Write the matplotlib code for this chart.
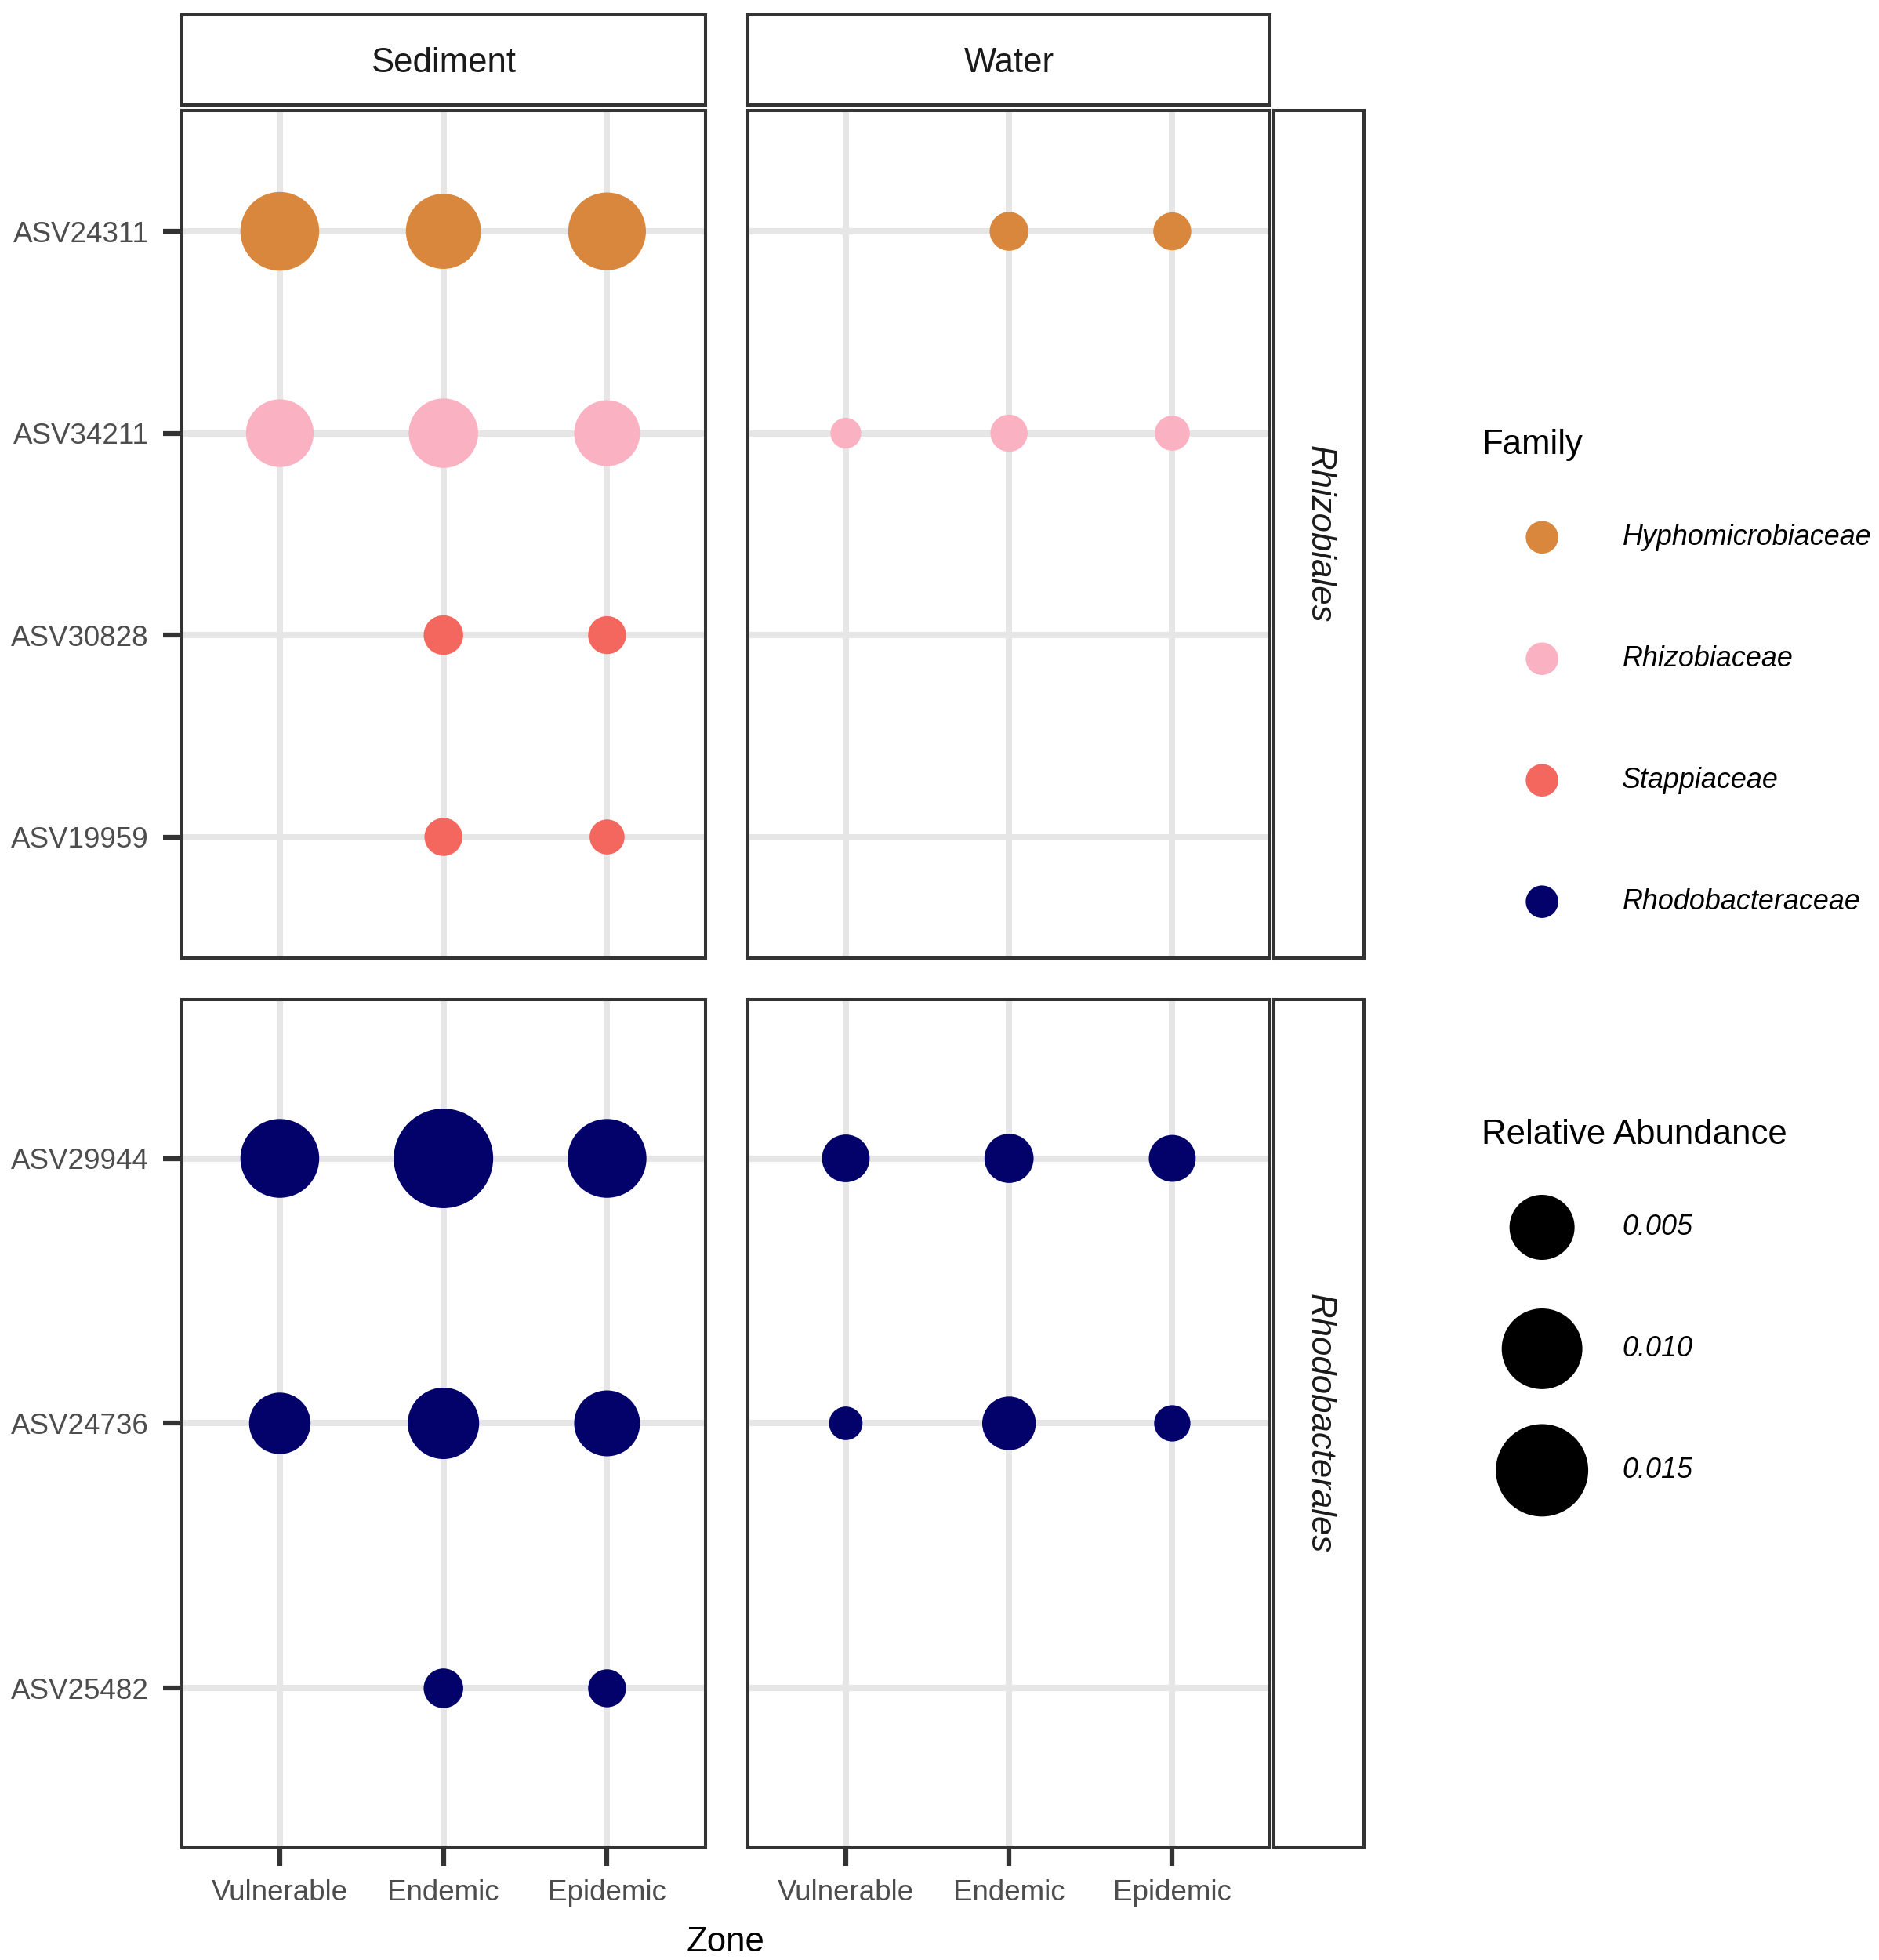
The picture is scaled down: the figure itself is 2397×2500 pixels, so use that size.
import numpy as np
import matplotlib
matplotlib.use("Agg")
import matplotlib.pyplot as plt

plt.rcParams['font.family'] = ['Liberation Sans', 'DejaVu Sans']

# ---------------- data ----------------
zones = ["Vulnerable", "Endemic", "Epidemic"]
habitats = ["Sediment", "Water"]
orders = ["Rhizobiales", "Rhodobacterales"]

families = ["Hyphomicrobiaceae", "Rhizobiaceae", "Stappiaceae", "Rhodobacteraceae"]
family_colors = ["#D8873C", "#FAB2C2", "#F4675F", "#02026A"]

# ASVs per order (top to bottom) and their family
rhizo_asvs = ["ASV24311", "ASV34211", "ASV30828", "ASV19959"]
rhizo_family = ["Hyphomicrobiaceae", "Rhizobiaceae", "Stappiaceae", "Stappiaceae"]
rhodo_asvs = ["ASV29944", "ASV24736", "ASV25482"]
rhodo_family = ["Rhodobacteraceae", "Rhodobacteraceae", "Rhodobacteraceae"]

# relative abundance [asv][zone]; nan = absent
sed_rhizo = [[0.0093, 0.0080, 0.0089],
             [0.0057, 0.0062, 0.0052],
             [np.nan, 0.0008, 0.0007],
             [np.nan, 0.0007, 0.00057]]
wat_rhizo = [[np.nan, 0.00075, 0.0007],
             [0.0005, 0.00066, 0.00057],
             [np.nan, np.nan, np.nan],
             [np.nan, np.nan, np.nan]]
sed_rhodo = [[0.0093, 0.0185, 0.0093],
             [0.0041, 0.0068, 0.0052],
             [np.nan, 0.0008, 0.0007]]
wat_rhodo = [[0.0016, 0.0018, 0.0015],
             [0.00053, 0.0025, 0.00062],
             [np.nan, np.nan, np.nan]]

size_breaks = [0.005, 0.010, 0.015]

# ---------------- size scale ----------------
all_vals = np.concatenate([np.ravel(a) for a in (sed_rhizo, wat_rhizo, sed_rhodo, wat_rhodo)])
vmin, vmax = np.nanmin(all_vals), np.nanmax(all_vals)
DPI = 100
DISP = 2397 / 1500.0  # displayed-to-output px
d_lo, d_hi = 24.5 * DISP * 72 / DPI, 79.4 * DISP * 72 / DPI  # diameters in points


def size_of(v):
    v = np.asarray(v, dtype=float)
    s = np.sqrt(np.clip((v - vmin) / (vmax - vmin), 0, 1))
    d = d_lo + (d_hi - d_lo) * s
    return d ** 2


# ---------------- figure ----------------
W, H = 2397, 2500
fig = plt.figure(figsize=(W / DPI, H / DPI), dpi=DPI)
DW, DH = 1500.0, 1565.0


def rect(x0, y0, x1, y1):
    return [x0 / DW, 1 - y1 / DH, (x1 - x0) / DW, (y1 - y0) / DH]


col_x = [(145, 563), (597, 1014)]
row_y = [(88, 765), (798, 1475)]
strip_top = (12, 84)
strip_right = (1017, 1089)

border_col = "#333333"
grid_col = "#E6E6E6"
bw = 2.9

data = {(0, 0): (sed_rhizo, rhizo_asvs, rhizo_family),
        (0, 1): (wat_rhizo, rhizo_asvs, rhizo_family),
        (1, 0): (sed_rhodo, rhodo_asvs, rhodo_family),
        (1, 1): (wat_rhodo, rhodo_asvs, rhodo_family)}

for r in range(2):
    for c in range(2):
        x0, x1 = col_x[c]
        y0, y1 = row_y[r]
        ax = fig.add_axes(rect(x0, y0, x1, y1))
        vals, asvs, fams = data[(r, c)]
        n = len(asvs)
        ypos = np.arange(n)[::-1]
        for i in range(n):
            ax.axhline(ypos[i], color=grid_col, lw=5.8, zorder=0)
        for j in range(3):
            ax.axvline(j, color=grid_col, lw=5.8, zorder=0)
        for i in range(n):
            col = family_colors[families.index(fams[i])]
            for j in range(3):
                v = vals[i][j]
                if np.isnan(v):
                    continue
                ax.scatter([j], [ypos[i]], s=size_of(v), color=col,
                           edgecolors='none', zorder=3)
        ax.set_xlim(-0.6, 2.6)
        ax.set_ylim(-0.6, n - 1 + 0.6)
        for sp in ax.spines.values():
            sp.set_color(border_col)
            sp.set_linewidth(bw)
        ax.set_xticks(range(3))
        ax.set_yticks(ypos)
        ax.tick_params(axis='both', length=17, width=4.5, color=border_col,
                       labelsize=26.5, labelcolor="#4D4D4D")
        ax.tick_params(axis='y', pad=13)
        ax.tick_params(axis='x', pad=12)
        if r == 1:
            ax.set_xticklabels(zones)
        else:
            ax.tick_params(axis='x', length=0, labelbottom=False)
        if c == 0:
            ax.set_yticklabels(asvs)
        else:
            ax.tick_params(axis='y', length=0, labelleft=False)

# top strips
for c in range(2):
    x0, x1 = col_x[c]
    sa = fig.add_axes(rect(x0, strip_top[0], x1, strip_top[1]))
    sa.set_xticks([]); sa.set_yticks([])
    for sp in sa.spines.values():
        sp.set_color(border_col); sp.set_linewidth(bw)
    sa.text(0.5, 0.47, habitats[c], ha='center', va='center', fontsize=31.5,
            color="#1A1A1A", transform=sa.transAxes)

# right strips
for r in range(2):
    y0, y1 = row_y[r]
    sa = fig.add_axes(rect(strip_right[0], y0, strip_right[1], y1))
    sa.set_xticks([]); sa.set_yticks([])
    for sp in sa.spines.values():
        sp.set_color(border_col); sp.set_linewidth(bw)
    sa.text(0.5, 0.5, orders[r], ha='center', va='center', fontsize=31.5,
            color="#1A1A1A", rotation=270, style='italic', transform=sa.transAxes)

# axis title
fig.text(579.5 / DW, 1 - 1551 / DH, "Zone", ha='center', va='center', fontsize=31.5,
         color="#000000")

# ---------------- legends ----------------
lg = fig.add_axes([0, 0, 1, 1], zorder=-1)
lg.set_xlim(0, DW); lg.set_ylim(DH, 0)
lg.axis('off')

lg.text(1183, 355, "Family", ha='left', va='center', fontsize=31.5, color="#000000")
fam_y = [429, 526, 623, 720]
key_d = 26 * DISP * 72 / DPI
for k, fam in enumerate(families):
    lg.scatter([1231], [fam_y[k]], s=key_d ** 2, color=family_colors[k], edgecolors='none')
    lg.text(1295, fam_y[k], fam, ha='left', va='center', fontsize=25.8,
            style='italic', color="#000000")

lg.text(1183, 906, "Relative Abundance", ha='left', va='center', fontsize=31.5,
        color="#000000")
size_y = [980, 1077, 1174]
for k, b in enumerate(size_breaks):
    lg.scatter([1231], [size_y[k]], s=size_of(b), color="black", edgecolors='none')
    lg.text(1295, size_y[k], f"{b:.3f}", ha='left', va='center', fontsize=25.8,
            style='italic', color="#000000")

fig.savefig("out.png", dpi=DPI, facecolor="white")
